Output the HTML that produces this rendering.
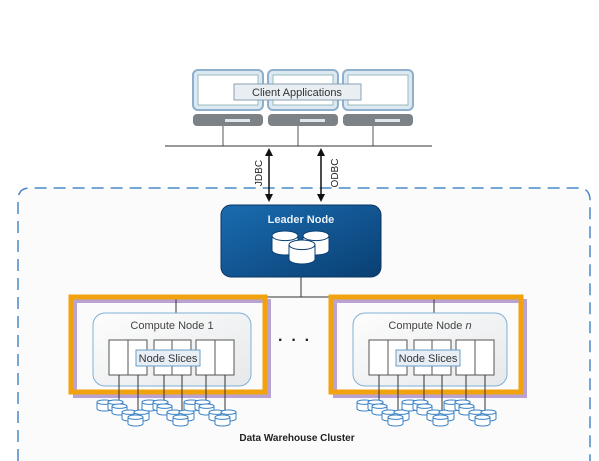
<!DOCTYPE html>
<html><head><style>
html,body{margin:0;padding:0;background:#fff;}
svg{display:block;font-family:"Liberation Sans",sans-serif;}
</style></head><body>
<svg id="s" width="599" height="461" viewBox="0 0 599 461" xmlns="http://www.w3.org/2000/svg">
<defs>
<linearGradient id="lg" x1="0" y1="0" x2="1" y2="1"><stop offset="0" stop-color="#1a6cb0"/><stop offset="1" stop-color="#0a3f73"/></linearGradient>
<linearGradient id="cg" x1="0" y1="0" x2="1" y2="1"><stop offset="0" stop-color="#fdfdfd"/><stop offset="1" stop-color="#e6e8ea"/></linearGradient>
<marker id="ah" markerWidth="8" markerHeight="8" refX="4" refY="4" orient="auto-start-reverse" markerUnits="userSpaceOnUse"><path d="M0,0 L8,4 L0,8 z" fill="#111"/></marker>
</defs>
<rect width="599" height="461" fill="#fff"/>
<path d="M18,461 L18,200 Q18,188 30,188 L578,188 Q590,188 590,200 L590,461" fill="#fbfbfb" stroke="#4a8ac8" stroke-width="1.5" stroke-dasharray="12,7"/>
<g id="mon"></g>
<line x1="165" y1="146" x2="432" y2="146" stroke="#333" stroke-width="1"/>
<rect x="234" y="84" width="127" height="16" fill="#e9eef2" stroke="#8aa0b3"/>
<text x="297" y="96" font-size="11" text-anchor="middle" fill="#333">Client Applications</text>
<line x1="269" y1="152" x2="269" y2="198" stroke="#111" stroke-width="1.5" marker-start="url(#ah)" marker-end="url(#ah)"/>
<line x1="321" y1="152" x2="321" y2="198" stroke="#111" stroke-width="1.5" marker-start="url(#ah)" marker-end="url(#ah)"/>
<text transform="translate(262,173) rotate(-90)" font-size="10" text-anchor="middle" fill="#222">JDBC</text>
<text transform="translate(338,173) rotate(-90)" font-size="10" text-anchor="middle" fill="#222">ODBC</text>
<rect x="221" y="205" width="160" height="72" rx="10" fill="url(#lg)" stroke="#0a3560"/>
<text x="301" y="223" font-size="11" font-weight="bold" text-anchor="middle" fill="#e8f0f8">Leader Node</text>
<g id="ld"></g>
<line x1="301" y1="277" x2="301" y2="297" stroke="#333"/>
<line x1="175" y1="297" x2="425" y2="297" stroke="#333"/>
<g id="cn"></g>
<text x="298" y="345" font-size="16" font-weight="bold" text-anchor="middle" fill="#222" letter-spacing="8">···</text>
<text x="297" y="441" font-size="10" font-weight="bold" text-anchor="middle" fill="#222">Data Warehouse Cluster</text>
</svg>
<script>
var N="http://www.w3.org/2000/svg";
function el(p,t,a,txt){var e=document.createElementNS(N,t);for(var k in a)e.setAttribute(k,a[k]);if(txt)e.textContent=txt;p.appendChild(e);return e;}
var mon=document.getElementById('mon');
[193,268,343].forEach(function(x){
 el(mon,'rect',{x:x,y:70,width:70,height:40,rx:5,fill:'#dce8f2',stroke:'#8fb0cc','stroke-width':2});
 el(mon,'rect',{x:x+5,y:75,width:60,height:30,fill:'#fff',stroke:'#9bb'});
 el(mon,'rect',{x:x,y:114,width:70,height:12,rx:4,fill:'#7d8287'});
 el(mon,'rect',{x:x+32,y:119,width:25,height:3,fill:'#dfe6ec'});
 el(mon,'line',{x1:x+30,y1:126,x2:x+30,y2:146,stroke:'#555'});
});
function cyl(g,x,y,w,h,fill,stroke){
 el(g,'path',{d:'M'+x+','+(y+h*0.2)+' L'+x+','+(y+h*0.8)+' A'+(w/2)+','+(h*0.2)+' 0 0 0 '+(x+w)+','+(y+h*0.8)+' L'+(x+w)+','+(y+h*0.2),fill:fill,stroke:stroke});
 el(g,'ellipse',{cx:x+w/2,cy:y+h*0.2,rx:w/2,ry:h*0.2,fill:fill,stroke:stroke});
}
var ld=document.getElementById('ld');
cyl(ld,272,231,26,24,'#fff','#0a3f73');cyl(ld,303,231,26,24,'#fff','#0a3f73');cyl(ld,289,240,26,24,'#fff','#0a3f73');
var cn=document.getElementById('cn');
function compute(ox,oy,w,title,ital){
 el(cn,'rect',{x:ox+4,y:oy+4,width:w,height:95,fill:'none',stroke:'#b9a3d3','stroke-width':4});
 el(cn,'line',{x1:ox+w/2+8,y1:oy,x2:ox+w/2+8,y2:oy+16,stroke:'#333'});
 var bx=ox+22,bw=w-36;
 el(cn,'rect',{x:bx,y:oy+16,width:bw,height:73,rx:12,fill:'url(#cg)',stroke:'#7fb0d6'});
 var t=el(cn,'text',{x:bx+bw/2,y:oy+32,'font-size':11,'text-anchor':'middle',fill:'#444'},title);
 if(ital){el(t,'tspan',{'font-style':'italic'},' n');}
 var sx=bx+16,cols=[0,19,45,63,87,106];
 cols.forEach(function(c){
  el(cn,'rect',{x:sx+c,y:oy+43,width:19,height:35,fill:'#fff',stroke:'#555'});
 });
 el(cn,'rect',{x:sx+27,y:oy+53,width:64,height:16,fill:'#e7eef5',stroke:'#6a9cc6'});
 el(cn,'text',{x:sx+59,y:oy+65,'font-size':11,'text-anchor':'middle',fill:'#333'},'Node Slices');
 el(cn,'rect',{x:ox,y:oy,width:w,height:95,fill:'none',stroke:'#f0a30f','stroke-width':5});
 cols.forEach(function(c,i){
  var lx=sx+c+10, dy=(i%2==0)?103:113;
  el(cn,'line',{x1:lx,y1:oy+78,x2:lx,y2:oy+dy+2,stroke:'#333'});
 });
 var dg=el(cn,'g',{});
 [0,45,87].forEach(function(c){
  var base=sx+c;
  cyl(dg,base-12,oy+103,15,11,'#fff','#3b82c4');cyl(dg,base-1,oy+103,15,11,'#fff','#3b82c4');
  cyl(dg,base+3,oy+107,15,11,'#fff','#3b82c4');
  cyl(dg,base+13,oy+113,15,11,'#fff','#3b82c4');cyl(dg,base+25,oy+113,15,11,'#fff','#3b82c4');
  cyl(dg,base+19,oy+118,15,11,'#fff','#3b82c4');
 });
}
compute(71,297,194,'Compute Node 1',false);
compute(331,297,190,'Compute Node',true);
</script>
</body></html>
